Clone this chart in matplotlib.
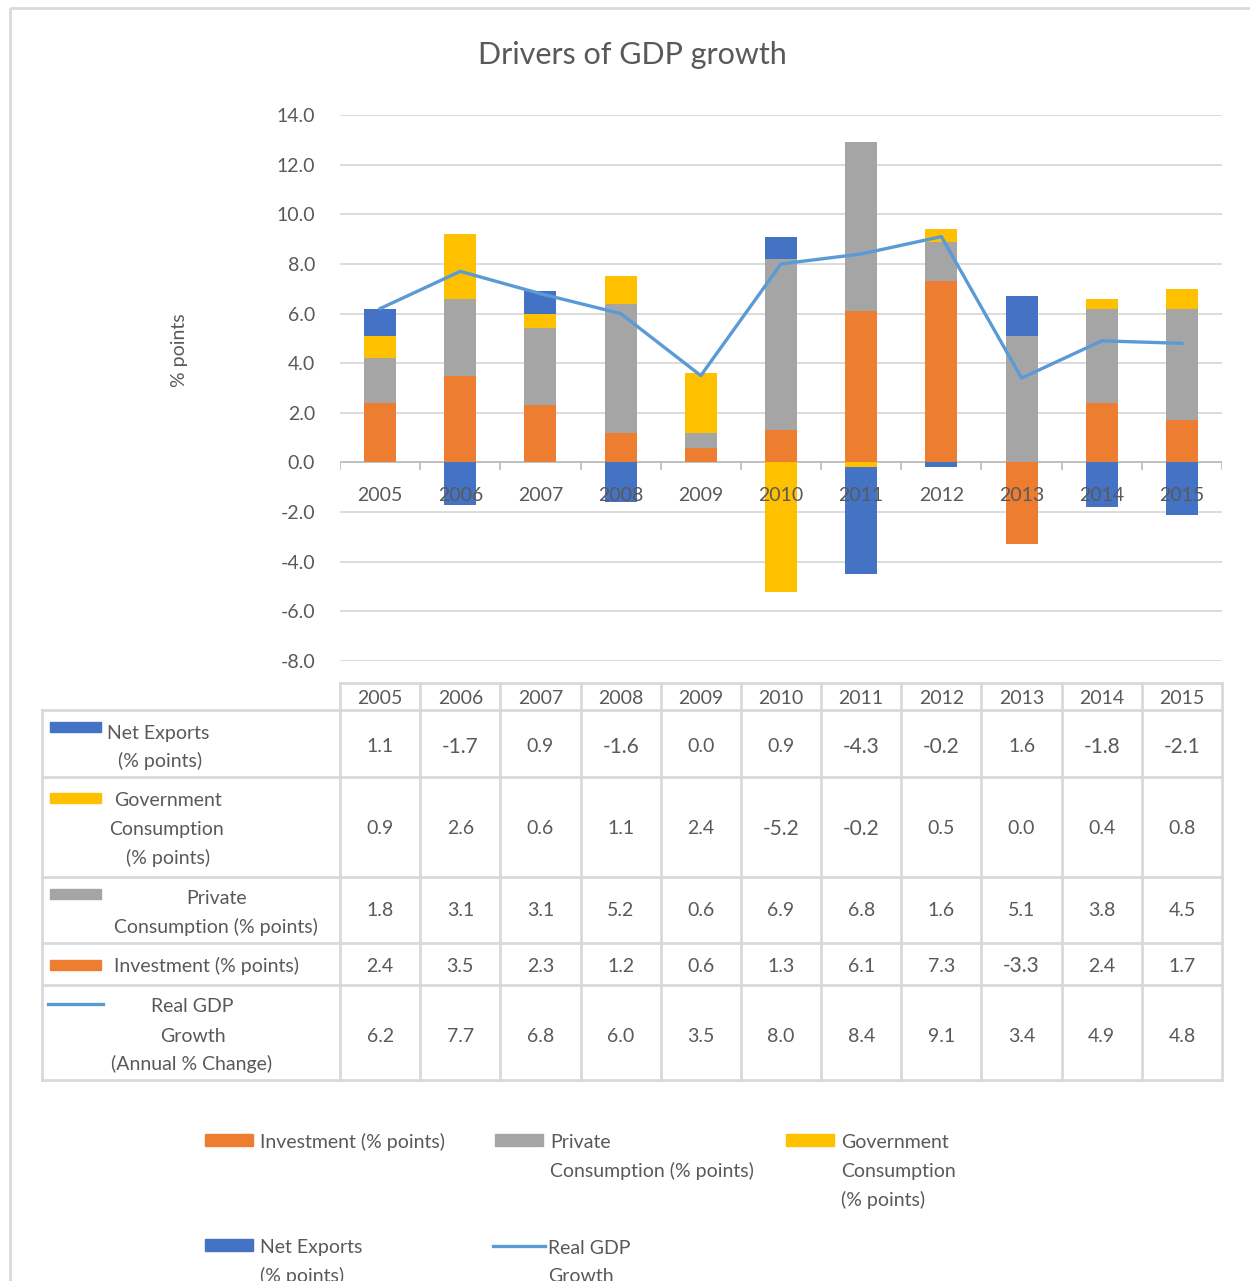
import matplotlib
matplotlib.use('Agg')  # no display
import matplotlib.pyplot as plt
from matplotlib.patches import Rectangle
import numpy as np

plt.rcParams['font.family'] = ['Lato', 'DejaVu Sans']
plt.rcParams['axes.unicode_minus'] = False

years = ['2005', '2006', '2007', '2008', '2009', '2010', '2011', '2012', '2013', '2014', '2015']
net_exports = [1.1, -1.7, 0.9, -1.6, 0.0, 0.9, -4.3, -0.2, 1.6, -1.8, -2.1]
gov_consumption = [0.9, 2.6, 0.6, 1.1, 2.4, -5.2, -0.2, 0.5, 0.0, 0.4, 0.8]
private_consumption = [1.8, 3.1, 3.1, 5.2, 0.6, 6.9, 6.8, 1.6, 5.1, 3.8, 4.5]
investment = [2.4, 3.5, 2.3, 1.2, 0.6, 1.3, 6.1, 7.3, -3.3, 2.4, 1.7]
real_gdp = [6.2, 7.7, 6.8, 6.0, 3.5, 8.0, 8.4, 9.1, 3.4, 4.9, 4.8]

C_INV = '#ED7D31'
C_PRIV = '#A5A5A5'
C_GOV = '#FFC000'
C_NX = '#4472C4'
C_GDP = '#5B9BD5'
TXT = '#595959'
GRID = '#D9D9D9'

W, H = 1250, 1281
fig = plt.figure(figsize=(W / 100, H / 100), dpi=100)
fig.patch.set_facecolor('white')

# overlay in pixel coordinates for the frame, table and legend
ov = fig.add_axes([0, 0, 1, 1], zorder=0)
ov.set_xlim(0, W)
ov.set_ylim(H, 0)
ov.axis('off')
ov.add_patch(Rectangle((10, 8), 1260, 1290, fill=False, edgecolor=GRID, lw=2))

# main chart
x0, x1, yt, yb = 340, 1222, 115, 661
ax = fig.add_axes([x0 / W, 1 - yb / H, (x1 - x0) / W, (yb - yt) / H], zorder=2)
ax.patch.set_alpha(0)
x = np.arange(len(years))

series = [(investment, C_INV), (private_consumption, C_PRIV),
          (gov_consumption, C_GOV), (net_exports, C_NX)]
pos_base = np.zeros(len(years))
neg_base = np.zeros(len(years))
for vals, col in series:
    v = np.array(vals)
    pos = np.where(v > 0, v, 0)
    neg = np.where(v < 0, v, 0)
    ax.bar(x, pos, 0.4, bottom=pos_base, color=col, zorder=3)
    ax.bar(x, neg, 0.4, bottom=neg_base, color=col, zorder=3)
    pos_base += pos
    neg_base += neg

ax.plot(x, real_gdp, color=C_GDP, lw=2.4, zorder=4)

ax.set_xlim(-0.5, len(years) - 0.5)
ax.set_ylim(-8, 14)
ax.set_yticks(np.arange(-8, 14.1, 2))
ax.set_yticklabels([f'{t:.1f}' for t in np.arange(-8, 14.1, 2)])
ax.tick_params(axis='y', length=0, pad=18, labelsize=14, labelcolor=TXT)
ax.set_xticks([])
ax.grid(axis='y', color=GRID, lw=1.3, zorder=0)
for s in ax.spines.values():
    s.set_visible(False)

# category axis at zero with tick marks between categories
ax.axhline(0, color='#BFBFBF', lw=1.3, zorder=2)
for b in np.arange(-0.5, len(years), 1):
    ax.plot([b, b], [0, -0.25], color='#BFBFBF', lw=1.3, zorder=2)
for i, yr in enumerate(years):
    ax.annotate(yr, (i, 0), xytext=(0, -24), textcoords='offset points',
                ha='center', va='center', fontsize=14, color=TXT, zorder=5)

fig.text(632 / W, 1 - 55 / H, 'Drivers of GDP growth', ha='center', va='center',
         fontsize=22, color=TXT)
fig.text(180 / W, 1 - 350 / H, '% points', rotation=90, ha='center', va='center',
         fontsize=14, color=TXT)

# data table
colw = (x1 - x0) / len(years)
head_top, head_bot = 683, 710
row_edges = [710, 777, 877, 943, 985, 1080]
lkw = dict(color=GRID, lw=2)
ov.plot([x0, x1], [head_top, head_top], **lkw)
for k in range(len(years) + 1):
    ov.plot([x0 + k * colw] * 2, [head_top, row_edges[-1]], **lkw)
for ry in row_edges:
    ov.plot([42, x1], [ry, ry], **lkw)
ov.plot([42, 42], [row_edges[0], row_edges[-1]], **lkw)
for k, yr in enumerate(years):
    ov.text(x0 + (k + 0.5) * colw, 698, yr, ha='center', va='center', fontsize=14, color=TXT)

rows = [
    (net_exports, C_NX, 'bar', 727, [('Net Exports', 158, 733), ('(% points)', 160, 761)], 747),
    (gov_consumption, C_GOV, 'bar', 798, [('Government', 168, 800), ('Consumption', 166, 829),
                                          ('(% points)', 168, 858)], 829),
    (private_consumption, C_PRIV, 'bar', 894, [('Private', 217, 898),
                                               ('Consumption (% points)', 216, 927)], 911),
    (investment, C_INV, 'bar', 965, [('Investment (% points)', 207, 966)], 966),
    (real_gdp, C_GDP, 'line', 1004, [('Real GDP', 192, 1007), ('Growth', 193, 1036),
                                     ('(Annual % Change)', 192, 1064)], 1036),
]
for vals, col, kind, ky, lines, vy in rows:
    if kind == 'bar':
        ov.add_patch(Rectangle((50, ky - 5), 51, 10, color=col))
    else:
        ov.plot([48, 103], [ky, ky], color=col, lw=2.4)
    for txt, tx, ty in lines:
        ov.text(tx, ty, txt, ha='center', va='center', fontsize=14, color=TXT)
    for k, v in enumerate(vals):
        ov.text(x0 + (k + 0.5) * colw, vy, f'{v:.1f}', ha='center', va='center',
                fontsize=15 if v < 0 else 14, color=TXT)

# legend below the table
legend_items = [
    (C_INV, 'bar', 205, 1140, ['Investment (% points)']),
    (C_PRIV, 'bar', 495, 1140, ['Private', 'Consumption (% points)']),
    (C_GOV, 'bar', 786, 1140, ['Government', 'Consumption', '(% points)']),
    (C_NX, 'bar', 205, 1245, ['Net Exports', '(% points)']),
    (C_GDP, 'line', 493, 1246, ['Real GDP', 'Growth']),
]
for col, kind, lx, ly, lines in legend_items:
    if kind == 'bar':
        ov.add_patch(Rectangle((lx, ly - 6), 48, 12, color=col))
    else:
        ov.plot([lx, lx + 52], [ly, ly], color=col, lw=2.4)
    for j, txt in enumerate(lines):
        ov.text(lx + 55, ly + 2 + j * 29, txt, ha='left', va='center', fontsize=14, color=TXT)

plt.savefig('out.png', dpi=100)
plt.close(fig)
